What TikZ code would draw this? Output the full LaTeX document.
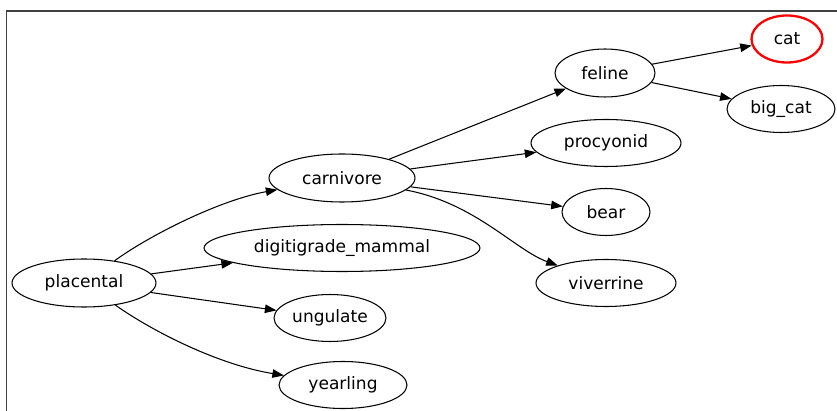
\documentclass[tikz,border=0pt]{standalone}
\usepackage{fontspec}
\setmainfont{DejaVu Sans}
\usetikzlibrary{shapes.geometric,arrows.meta}
\begin{document}
\begin{tikzpicture}[x=0.02cm,y=-0.02cm,
  nd/.style={ellipse,draw=black,line width=0.6pt,inner sep=0pt,
    font=\fontsize{9.7}{11}\selectfont,text=black},
  sel/.style={nd,draw=red,line width=1.3pt},
  edge/.style={draw=black,line width=0.6pt,-{Triangle[length=0.23cm,width=0.17cm]}},
  frame/.style={draw=black!75,line width=1.1pt}]
\useasboundingbox (0,0) rectangle (837,411);
\draw[frame] (6.5,411) -- (6.5,11) -- (837,11);
\node[nd,minimum width=2.88cm,minimum height=0.96cm] (placental) at (84,283) {placental};
\node[nd,minimum width=2.92cm,minimum height=0.96cm] (carnivore) at (342,178) {carnivore};
\node[nd,minimum width=5.52cm,minimum height=0.94cm] (digitigrade) at (342,248) {digitigrade\_mammal};
\node[nd,minimum width=2.24cm,minimum height=0.94cm] (ungulate) at (330,318) {ungulate};
\node[nd,minimum width=2.56cm,minimum height=0.94cm] (yearling) at (343,385) {yearling};
\node[nd,minimum width=2.0cm,minimum height=0.96cm] (feline) at (605,73) {feline};
\node[sel,minimum width=1.42cm,minimum height=0.94cm] (cat) at (787,39) {cat};
\node[nd,minimum width=2.16cm,minimum height=0.94cm] (bigcat) at (781,109) {big\_cat};
\node[nd,minimum width=3.0cm,minimum height=0.94cm] (procyonid) at (606,143) {procyonid};
\node[nd,minimum width=1.76cm,minimum height=0.94cm] (bear) at (606,212) {bear};
\node[nd,minimum width=2.8cm,minimum height=0.94cm] (viverrine) at (606,283) {viverrine};
\draw[edge] (placental) .. controls (150,235) and (220,200) .. (carnivore);
\draw[edge] (placental) -- (digitigrade);
\draw[edge] (placental) -- (ungulate);
\draw[edge] (placental) .. controls (155,333) and (220,365) .. (yearling);
\draw[edge] (carnivore) -- (feline);
\draw[edge] (carnivore) -- (procyonid);
\draw[edge] (carnivore) -- (bear);
\draw[edge] (carnivore) .. controls (475,203) and (515,250) .. (viverrine);
\draw[edge] (feline) -- (cat);
\draw[edge] (feline) -- (bigcat);
\end{tikzpicture}
\end{document}
